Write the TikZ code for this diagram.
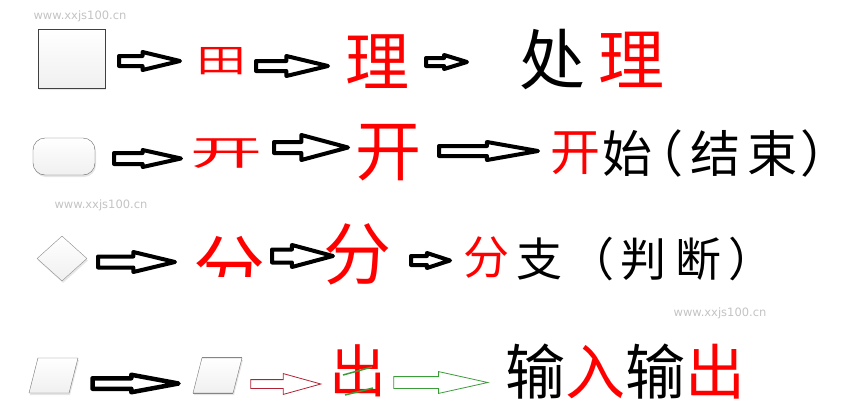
\documentclass[tikz,border=0pt]{standalone}
\usepackage{fontspec}
\newfontfamily\cjk{Noto Sans CJK SC}
\newfontfamily\wmfont{DejaVu Sans}
\usetikzlibrary{shapes.geometric, shapes.arrows, shadows, positioning}
\definecolor{wmgray}{RGB}{195,195,195}
\definecolor{zired}{RGB}{255,0,0}
\definecolor{edgered}{RGB}{178,34,52}
\definecolor{edgepink}{RGB}{205,100,110}
\definecolor{edgegreen}{RGB}{60,156,60}
\newcommand{\zisize}[1]{\cjk\fontsize{#1}{#1}\selectfont}
\tikzstyle{flowshape} = [%
  top color=white,
  bottom color=gray!12,
  drop shadow={opacity=0.2, shadow xshift=1pt, shadow yshift=-2pt},
  inner sep=0pt
]
\tikzstyle{barrow} = [%
  single arrow,
  anchor=tail,
  draw=black,
  fill=white,
  line width=4pt,
  line join=round,
  inner xsep=0pt,
  single arrow head indent=0pt
]
\tikzstyle{tarrow} = [%
  single arrow,
  anchor=tail,
  fill=white,
  line width=0.8pt,
  inner xsep=0pt,
  single arrow head indent=0pt
]
\tikzstyle{zi} = [%
  inner sep=0pt,
  text=black
]
\tikzstyle{watermark} = [%
  text=wmgray,
  font=\wmfont\fontsize{11.5}{12}\selectfont,
  inner sep=0pt
]

\begin{document}
\begin{tikzpicture}[x=1pt, y=-1pt]
  \useasboundingbox (0,0) rectangle (851,413);

  % Watermarks
  \node[watermark] (wm1) at (80,16) {www.xxjs100.cn};
  \node[watermark] (wm2) at (101,205) {www.xxjs100.cn};
  \node[watermark] (wm3) at (720,313) {www.xxjs100.cn};

  % Row 1: process
  \node[flowshape, rectangle, draw=black!75, minimum width=67pt, minimum height=59pt] (box) at (71.5,58.5) {};
  \node[barrow, minimum height=61pt, inner ysep=3pt, single arrow head extend=4pt, single arrow tip angle=27] (a11) at (117,61) {};
  \node[zi, text=zired, font=\zisize{50}] (tian) at (221,61) {\scalebox{1}[0.65]{田}};
  \node[barrow, minimum height=72pt, inner ysep=3pt, single arrow head extend=5pt, single arrow tip angle=27] (a12) at (254,66) {};
  \node[zi, text=zired, font=\zisize{64}] (li1) at (377,62) {理};
  \node[barrow, minimum height=41pt, inner ysep=2pt, single arrow head extend=3pt, single arrow tip angle=34] (a13) at (424,62) {};
  \node[zi, font=\zisize{66}] (chu1) at (552,60) {处};
  \node[zi, text=zired, font=\zisize{66}] (li2) at (631,60) {理};

  % Row 2: terminal
  \node[flowshape, rectangle, rounded corners=12pt, draw=black!60, minimum width=62pt, minimum height=37pt] (term) at (64,156.5) {};
  \node[barrow, minimum height=67pt, inner ysep=3.5pt, single arrow head extend=3pt, single arrow tip angle=25] (a21) at (112,158.5) {};
  \node[zi, text=zired, font=\zisize{72}] (kai1) at (226.5,153.5) {\scalebox{1}[0.48]{开}};
  \node[barrow, minimum height=74pt, inner ysep=3.5pt, single arrow head extend=7pt, single arrow tip angle=30] (a22) at (272,147.5) {};
  \node[zi, text=zired, font=\zisize{66}] (kai2) at (388.5,152.5) {开};
  \node[barrow, minimum height=99pt, inner ysep=3pt, single arrow head extend=4pt, single arrow tip angle=20] (a23) at (437,151) {};
  \node[zi, text=zired, font=\zisize{50}] (kai3) at (575,153.5) {开};
  \node[zi, font=\zisize{50}] (shi) at (627,153.5) {始};
  \node[zi, font=\zisize{50}] (lp2) at (658,153.5) {（};
  \node[zi, font=\zisize{50}] (jie) at (715,153.5) {结};
  \node[zi, font=\zisize{50}] (shu) at (772,153.5) {束};
  \node[zi, font=\zisize{50}] (rp2) at (825,153.5) {）};

  % Row 3: decision
  \node[flowshape, diamond, draw=black!45, minimum width=50pt, minimum height=45pt] (dec) at (62,258.5) {};
  \node[barrow, minimum height=77pt, inner ysep=3.5pt, single arrow head extend=4.5pt, single arrow tip angle=27] (a31) at (96,262) {};
  \begin{scope}
    \clip (185,228) rectangle (272,276);
    \node[zi, text=zired, font=\zisize{72}] (fen1) at (229,269) {分};
  \end{scope}
  \node[barrow, minimum height=61pt, inner ysep=4.5pt, single arrow head extend=4.5pt, single arrow tip angle=30] (a32) at (270,256) {};
  \node[zi, text=zired, font=\zisize{68}] (fen2) at (357.5,254) {分};
  \node[barrow, minimum height=39pt, inner ysep=2.5pt, single arrow head extend=3pt, single arrow tip angle=36] (a33) at (409,260.5) {};
  \node[zi, text=zired, font=\zisize{46}] (fen3) at (486.5,257.5) {分};
  \node[zi, font=\zisize{46}] (zhi) at (539,259) {支};
  \node[zi, font=\zisize{46}] (lp) at (591,259) {（};
  \node[zi, font=\zisize{46}] (pan) at (643,259) {判};
  \node[zi, font=\zisize{46}] (duan) at (698,259) {断};
  \node[zi, font=\zisize{46}] (rp) at (751,259) {）};

  % Row 4: input/output
  \node[flowshape, trapezium, inner sep=2pt, trapezium left angle=74, trapezium right angle=106, trapezium stretches=true, draw=black!55, minimum width=49pt, minimum height=35pt] (io1) at (53.5,375.5) {};
  \node[barrow, line width=4.5pt, minimum height=86pt, inner ysep=3pt, single arrow head extend=3.5pt, single arrow tip angle=21] (a41) at (90.25,383.5) {};
  \node[flowshape, trapezium, inner sep=2pt, trapezium left angle=74, trapezium right angle=106, trapezium stretches=true, draw=black!55, minimum width=49pt, minimum height=35pt] (io2) at (217.5,375.5) {};
  \draw[edgepink, line width=1pt] (io2.top left corner) -- (io2.top right corner);
  \draw[edgepink, line width=1pt] (io2.bottom left corner) -- (io2.bottom right corner);
  \node[tarrow, draw=edgered, minimum height=70pt, inner ysep=4pt, single arrow head extend=6pt, single arrow tip angle=31] (a42) at (250.4,384) {};
  \node[zi, text=zired, font=\zisize{57}] (chu2) at (358,371) {出};
  \draw[edgegreen, line width=1.5pt] (343,375) -- (372,367);
  \draw[edgegreen, line width=1.5pt] (345,395) -- (373,388);
  \node[tarrow, draw=edgegreen, minimum height=94pt, inner ysep=5.5pt, single arrow head extend=5pt, single arrow tip angle=25] (a43) at (393.4,382.5) {};
  \node[zi, anchor=west, font=\zisize{60}] (shuru) at (505,372) {输{\color{zired}入}输{\color{zired}出}};

\end{tikzpicture}
\end{document}
